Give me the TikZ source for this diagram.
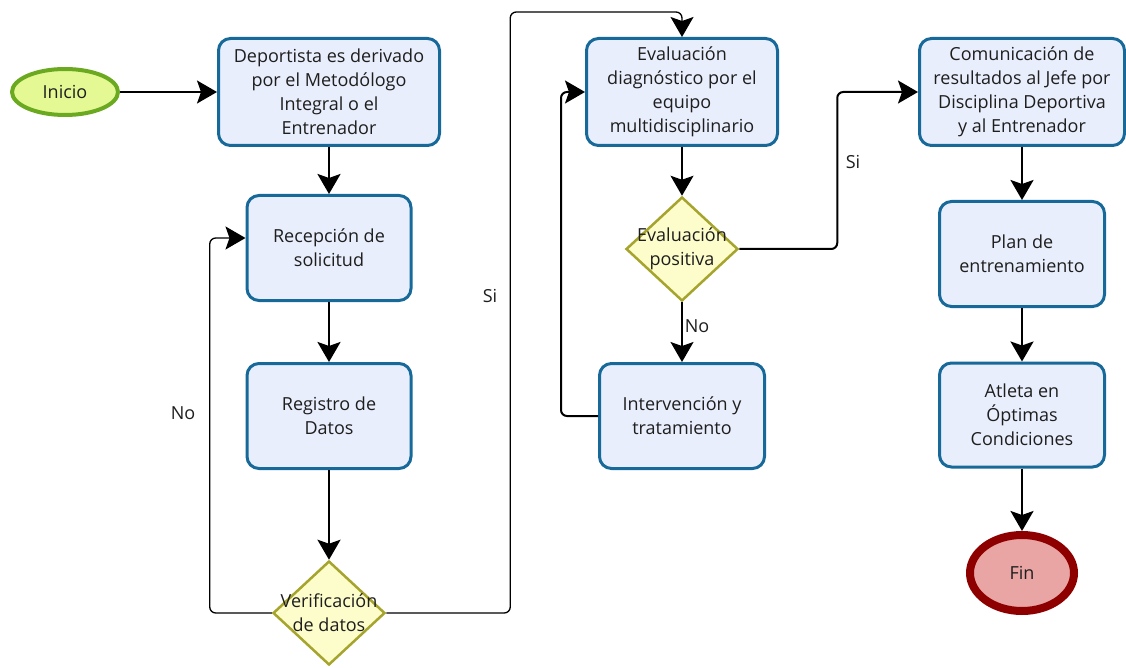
\documentclass[tikz,border=0pt]{standalone}
\usepackage{fontspec}
\setmainfont{Open Sans}
\usetikzlibrary{shapes.geometric,arrows.meta}

\definecolor{boxedge}{HTML}{17699A}
\definecolor{boxfill}{HTML}{E9EEFC}
\definecolor{diaedge}{HTML}{A5A42C}
\definecolor{diafill}{HTML}{FDFCCB}
\definecolor{iniedge}{HTML}{6BAA20}
\definecolor{inifill}{HTML}{E4F994}
\definecolor{finedge}{HTML}{8E0000}
\definecolor{finfill}{HTML}{E9A4A4}
\definecolor{txt}{HTML}{1E1E1E}

\tikzset{
  every node/.style={text=txt, font=\fontsize{18}{24}\selectfont},
  proc/.style={draw=boxedge, fill=boxfill, line width=3pt, rounded corners=12pt,
    align=center, inner sep=0pt},
  decision/.style={diamond, draw=diaedge, fill=diafill, line width=2.5pt,
    inner sep=0pt, minimum width=112pt, minimum height=104pt},
  dtext/.style={align=center},
  flow/.style={line width=2.5pt, -{Stealth[length=20pt,width=23pt,inset=4pt]}},
  link/.style={line width=1.3pt, rounded corners=6pt, -{Stealth[length=20pt,width=23pt,inset=4pt]}}
}

\begin{document}
\begin{tikzpicture}[x=1pt,y=-1pt]
\useasboundingbox (0,0) rectangle (1126,668);

% left column
\node [ellipse, draw=iniedge, fill=inifill, line width=4pt,
       minimum width=106pt, minimum height=46pt] (inicio) at (65,92) {Inicio};
\node [proc, minimum width=221pt, minimum height=107pt] (deriv) at (329,92)
  {Deportista es derivado\\por el Metodólogo\\Integral o el\\Entrenador};
\node [proc, minimum width=164pt, minimum height=105pt] (recep) at (329,248)
  {Recepción de\\solicitud};
\node [proc, minimum width=164pt, minimum height=105pt] (registro) at (329,416)
  {Registro de\\Datos};
\node [decision, label={[dtext]center:Verificación\\de datos}] (verif) at (329,613) {};

% middle column
\node [proc, minimum width=191pt, minimum height=107pt] (evaldiag) at (682,92)
  {Evaluación\\diagnóstico por el\\equipo\\multidisciplinario};
\node [decision, label={[dtext]center:Evaluación\\positiva}] (evalpos) at (682,249) {};
\node [proc, minimum width=165pt, minimum height=105pt] (interv) at (682,416)
  {Intervención y\\tratamiento};

% right column
\node [proc, minimum width=205pt, minimum height=107pt] (comun) at (1022,92)
  {Comunicación de\\resultados al Jefe por\\Disciplina Deportiva\\y al Entrenador};
\node [proc, minimum width=165pt, minimum height=105pt] (plan) at (1022,254)
  {Plan de\\entrenamiento};
\node [proc, minimum width=165pt, minimum height=104pt] (atleta) at (1022,415)
  {Atleta en\\Óptimas\\Condiciones};
\node [ellipse, draw=finedge, fill=finfill, line width=8pt,
       minimum width=104pt, minimum height=76pt] (fin) at (1022,573) {Fin};

% connectors
\draw [link] (inicio) -- (deriv);
\draw [flow] (deriv) -- (recep);
\draw [flow] (recep) -- (registro);
\draw [flow] (registro) -- (verif);
\draw [link] (verif.west) -- ++(-62,0) |- ([yshift=10pt]recep.west);
\draw [link] (verif.east) -- ++(124,0) |- ([yshift=25pt]evaldiag.north) -- (evaldiag.north);
\draw [link] (evaldiag) -- (evalpos);
\draw [link] (evalpos) -- (interv);
\draw [link, line width=2pt] (interv.west) -- ++(-37,0) |- (evaldiag.west);
\draw [link, line width=2pt] (evalpos.east) -- ++(98,0) |- (comun.west);
\draw [flow] (comun) -- (plan);
\draw [flow] (plan) -- (atleta);
\draw [flow] (atleta) -- (fin);

\node (no1) at (183,413) {No};
\node (si1) at (490,296) {Si};
\node (no2) at (697,326) {No};
\node (si2) at (853,162) {Si};
\end{tikzpicture}
\end{document}
